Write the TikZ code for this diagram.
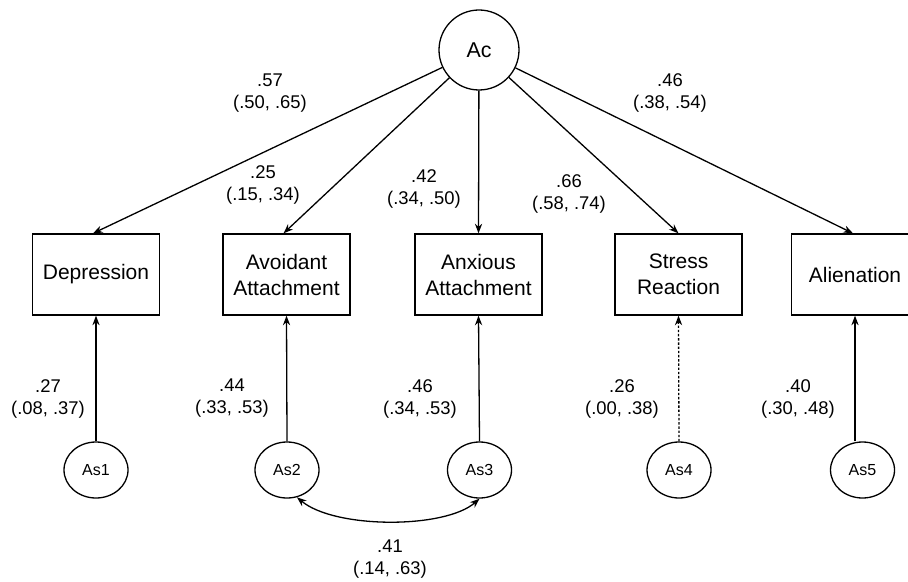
\documentclass[tikz,border=0pt]{standalone}
\usepackage{fontspec}
\setmainfont{Liberation Sans}
\usetikzlibrary{shapes.geometric,arrows.meta}
\begin{document}
\begin{tikzpicture}[x=0.5pt,y=-0.5pt,
  line width=0.65pt,
  arr/.style={-{Stealth[length=4.8pt,width=3.6pt]}},
  darr/.style={{Stealth[length=4.8pt,width=3.6pt]}-{Stealth[length=4.8pt,width=3.6pt]}},
  dotline/.style={dash pattern=on 1.2pt off 0.9pt},
  latent/.style={circle,draw,minimum size=40pt,inner sep=0pt,font=\fontsize{10.7}{12}\selectfont},
  obs/.style={rectangle,draw,minimum width=63.5pt,minimum height=40.5pt,inner sep=0pt,align=center,font=\fontsize{10.5}{13}\selectfont},
  spec/.style={ellipse,draw,minimum width=32pt,minimum height=28pt,inner sep=0pt,font=\fontsize{8}{9.6}\selectfont},
  lab/.style={align=center,inner sep=0pt,font=\fontsize{9.2}{11}\selectfont}]
\useasboundingbox (0,0) rectangle (908,582);

\node[latent] (Ac) at (479,50) {Ac};

\node[obs] (Dep) at (96,274.5) {Depression};
\node[obs] (Avo) at (286.5,274.5) {Avoidant\\Attachment};
\node[obs] (Anx) at (478.5,274.5) {Anxious\\Attachment};
\node[obs] (Str) at (678.5,274.5) {Stress\\Reaction};
\node[obs] (Ali) at (855,274.5) {Alienation};

\node[spec] (As1) at (96,470) {As1};
\node[spec] (As2) at (287,470) {As2};
\node[spec] (As3) at (479.5,470) {As3};
\node[spec] (As4) at (679,470) {As4};
\node[spec] (As5) at (862.5,470) {As5};

\draw[arr] (Ac) -- ([xshift=-1.5pt]Dep.north);
\draw[arr] (Ac) -- ([xshift=-1.5pt]Avo.north);
\draw[arr] (Ac) -- (Anx.north);
\draw[arr] (Ac) -- (Str.north);
\draw[arr] (Ac) -- ([xshift=-1pt]Ali.north);

\draw[arr] (As1.north) -- (Dep.south);
\draw[arr] (As2.north) -- (Avo.south);
\draw[arr] (As3.north) -- (Anx.south);
\draw[arr,dotline] (As4.north) -- (Str.south);
\draw[arr] (As5.north -| Ali.south) -- (Ali.south);

\draw[darr] (As2.-70) .. controls (335,529) and (445,529) .. (As3.south);

\node[lab] (l1) at (270,93) {.57\\(.50, .65)};
\node[lab] (l2) at (263,185) {.25\\(.15, .34)};
\node[lab] (l3) at (424,188.5) {.42\\(.34, .50)};
\node[lab] (l4) at (569,193.5) {.66\\(.58, .74)};
\node[lab] (l5) at (670,93) {.46\\(.38, .54)};

\node[lab] (e1) at (48,398.5) {.27\\(.08, .37)};
\node[lab] (e2) at (232,398.5) {.44\\(.33, .53)};
\node[lab] (e3) at (420,398.5) {.46\\(.34, .53)};
\node[lab] (e4) at (622,398.5) {.26\\(.00, .38)};
\node[lab] (e5) at (798,398.5) {.40\\(.30, .48)};

\node[lab] (c1) at (390,559.5) {.41\\(.14, .63)};
\end{tikzpicture}
\end{document}
